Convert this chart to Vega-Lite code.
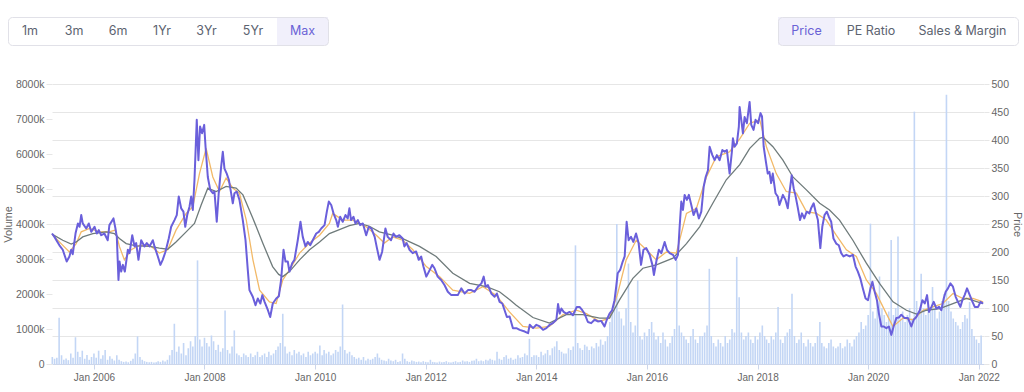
{
"$schema": "https://vega.github.io/schema/vega-lite/v6.json",
"padding": {"left": 2, "top": 16, "right": 0, "bottom": 4},
"background": "white",
"spacing": 67,
"bounds": "flush",
"config": {"view": {"stroke": null}, "font": "Liberation Sans", "axis": {"labelFont": "Liberation Sans", "titleFont": "Liberation Sans"}},
"datasets": {
"price": [
{"d":"2005-03-30","p":233},{"d":"2005-04-15","p":227},{"d":"2005-05-18","p":212},{"d":"2005-06-09","p":204},{"d":"2005-07-05","p":183},{"d":"2005-07-23","p":192},{"d":"2005-08-04","p":204},{"d":"2005-08-14","p":196},{"d":"2005-09-02","p":234},{"d":"2005-09-17","p":251},{"d":"2005-09-28","p":245},{"d":"2005-10-09","p":266},{"d":"2005-10-19","p":251},{"d":"2005-11-11","p":242},{"d":"2005-11-28","p":251},{"d":"2005-12-14","p":236},
{"d":"2006-01-05","p":245},{"d":"2006-01-20","p":233},{"d":"2006-02-02","p":239},{"d":"2006-02-18","p":230},{"d":"2006-03-11","p":233},{"d":"2006-04-02","p":221},{"d":"2006-04-13","p":248},{"d":"2006-05-10","p":260},{"d":"2006-05-23","p":242},{"d":"2006-06-01","p":227},{"d":"2006-06-12","p":150},{"d":"2006-06-19","p":183},{"d":"2006-06-30","p":165},{"d":"2006-07-11","p":177},{"d":"2006-07-24","p":165},{"d":"2006-08-13","p":204},{"d":"2006-08-24","p":198},{"d":"2006-09-11","p":230},{"d":"2006-09-26","p":210},{"d":"2006-10-07","p":216},{"d":"2006-10-22","p":186},{"d":"2006-11-09","p":221},{"d":"2006-12-01","p":210},{"d":"2006-12-16","p":216},
{"d":"2007-01-03","p":210},{"d":"2007-01-25","p":221},{"d":"2007-02-05","p":210},{"d":"2007-02-27","p":192},{"d":"2007-03-16","p":177},{"d":"2007-03-31","p":186},{"d":"2007-04-18","p":200},{"d":"2007-05-10","p":224},{"d":"2007-05-26","p":245},{"d":"2007-06-17","p":257},{"d":"2007-07-02","p":266},{"d":"2007-07-15","p":299},{"d":"2007-07-31","p":278},{"d":"2007-08-15","p":272},{"d":"2007-08-27","p":245},{"d":"2007-09-09","p":266},{"d":"2007-09-24","p":281},{"d":"2007-10-05","p":299},{"d":"2007-10-16","p":275},{"d":"2007-10-27","p":329},{"d":"2007-11-11","p":436},{"d":"2007-11-22","p":364},{"d":"2007-12-03","p":424},{"d":"2007-12-16","p":412},{"d":"2007-12-30","p":427},
{"d":"2008-01-08","p":388},{"d":"2008-01-23","p":334},{"d":"2008-02-08","p":311},{"d":"2008-02-25","p":305},{"d":"2008-03-07","p":308},{"d":"2008-03-22","p":254},{"d":"2008-04-04","p":305},{"d":"2008-04-20","p":352},{"d":"2008-05-01","p":379},{"d":"2008-05-12","p":349},{"d":"2008-05-27","p":340},{"d":"2008-06-10","p":329},{"d":"2008-06-25","p":305},{"d":"2008-07-06","p":287},{"d":"2008-07-17","p":305},{"d":"2008-08-01","p":308},{"d":"2008-08-19","p":293},{"d":"2008-09-10","p":257},{"d":"2008-09-28","p":221},{"d":"2008-10-13","p":168},{"d":"2008-10-24","p":132},{"d":"2008-11-15","p":120},{"d":"2008-12-03","p":105},{"d":"2008-12-18","p":117},
{"d":"2009-01-04","p":108},{"d":"2009-01-17","p":123},{"d":"2009-02-01","p":111},{"d":"2009-02-23","p":96},{"d":"2009-03-10","p":84},{"d":"2009-03-27","p":108},{"d":"2009-04-19","p":117},{"d":"2009-05-06","p":121},{"d":"2009-05-21","p":150},{"d":"2009-06-06","p":204},{"d":"2009-06-19","p":183},{"d":"2009-07-04","p":183},{"d":"2009-07-15","p":165},{"d":"2009-08-02","p":180},{"d":"2009-08-17","p":186},{"d":"2009-09-08","p":221},{"d":"2009-09-26","p":254},{"d":"2009-10-11","p":227},{"d":"2009-10-29","p":210},{"d":"2009-11-13","p":218},{"d":"2009-11-29","p":212},{"d":"2009-12-16","p":221},
{"d":"2010-01-08","p":233},{"d":"2010-01-25","p":236},{"d":"2010-02-10","p":242},{"d":"2010-03-04","p":248},{"d":"2010-03-19","p":272},{"d":"2010-04-01","p":290},{"d":"2010-04-17","p":284},{"d":"2010-05-02","p":269},{"d":"2010-05-20","p":257},{"d":"2010-05-31","p":245},{"d":"2010-06-15","p":263},{"d":"2010-07-02","p":254},{"d":"2010-07-20","p":266},{"d":"2010-08-04","p":260},{"d":"2010-08-15","p":278},{"d":"2010-08-26","p":257},{"d":"2010-09-11","p":263},{"d":"2010-09-24","p":251},{"d":"2010-10-10","p":257},{"d":"2010-10-25","p":248},{"d":"2010-11-12","p":251},{"d":"2010-12-04","p":230},{"d":"2010-12-21","p":245},
{"d":"2011-01-07","p":242},{"d":"2011-01-29","p":227},{"d":"2011-02-13","p":207},{"d":"2011-03-02","p":186},{"d":"2011-03-19","p":200},{"d":"2011-04-10","p":242},{"d":"2011-04-25","p":227},{"d":"2011-05-17","p":221},{"d":"2011-06-02","p":233},{"d":"2011-06-19","p":227},{"d":"2011-07-11","p":230},{"d":"2011-08-02","p":224},{"d":"2011-08-13","p":210},{"d":"2011-08-28","p":216},{"d":"2011-09-16","p":204},{"d":"2011-10-07","p":198},{"d":"2011-10-30","p":201},{"d":"2011-11-16","p":186},{"d":"2011-12-02","p":192},{"d":"2011-12-17","p":174},
{"d":"2012-01-05","p":156},{"d":"2012-01-22","p":165},{"d":"2012-02-13","p":177},{"d":"2012-02-28","p":171},{"d":"2012-03-20","p":156},{"d":"2012-04-12","p":150},{"d":"2012-05-04","p":141},{"d":"2012-05-26","p":129},{"d":"2012-06-18","p":123},{"d":"2012-07-10","p":123},{"d":"2012-07-31","p":123},{"d":"2012-08-23","p":135},{"d":"2012-09-14","p":126},{"d":"2012-10-06","p":132},{"d":"2012-10-28","p":132},{"d":"2012-11-19","p":129},{"d":"2012-12-11","p":138},
{"d":"2013-01-03","p":144},{"d":"2013-01-18","p":156},{"d":"2013-01-31","p":138},{"d":"2013-02-15","p":141},{"d":"2013-03-09","p":126},{"d":"2013-03-31","p":120},{"d":"2013-04-15","p":126},{"d":"2013-05-03","p":111},{"d":"2013-05-21","p":108},{"d":"2013-06-05","p":96},{"d":"2013-06-20","p":84},{"d":"2013-07-08","p":85},{"d":"2013-07-30","p":64},{"d":"2013-08-22","p":64},{"d":"2013-09-13","p":61},{"d":"2013-10-16","p":58},{"d":"2013-11-07","p":55},{"d":"2013-11-18","p":70},{"d":"2013-12-10","p":64},
{"d":"2014-01-01","p":70},{"d":"2014-01-23","p":67},{"d":"2014-02-14","p":61},{"d":"2014-03-08","p":64},{"d":"2014-03-30","p":70},{"d":"2014-04-20","p":73},{"d":"2014-05-13","p":79},{"d":"2014-05-24","p":107},{"d":"2014-06-04","p":90},{"d":"2014-06-15","p":99},{"d":"2014-06-30","p":93},{"d":"2014-07-18","p":90},{"d":"2014-08-08","p":93},{"d":"2014-08-30","p":87},{"d":"2014-09-25","p":102},{"d":"2014-10-13","p":102},{"d":"2014-10-31","p":96},{"d":"2014-11-15","p":90},{"d":"2014-12-07","p":75},{"d":"2014-12-29","p":73},
{"d":"2015-01-20","p":79},{"d":"2015-02-11","p":76},{"d":"2015-03-05","p":77},{"d":"2015-03-27","p":67},{"d":"2015-04-11","p":79},{"d":"2015-04-29","p":90},{"d":"2015-05-16","p":96},{"d":"2015-06-01","p":114},{"d":"2015-06-12","p":138},{"d":"2015-06-22","p":162},{"d":"2015-07-08","p":168},{"d":"2015-07-25","p":183},{"d":"2015-08-07","p":192},{"d":"2015-08-20","p":254},{"d":"2015-09-02","p":221},{"d":"2015-09-18","p":227},{"d":"2015-10-03","p":218},{"d":"2015-10-21","p":233},{"d":"2015-11-07","p":216},{"d":"2015-11-23","p":177},{"d":"2015-12-09","p":204},{"d":"2015-12-27","p":207},
{"d":"2016-01-19","p":195},{"d":"2016-02-06","p":177},{"d":"2016-02-16","p":159},{"d":"2016-03-03","p":183},{"d":"2016-03-20","p":204},{"d":"2016-04-05","p":198},{"d":"2016-04-27","p":218},{"d":"2016-05-12","p":204},{"d":"2016-05-30","p":198},{"d":"2016-06-21","p":195},{"d":"2016-07-09","p":186},{"d":"2016-07-24","p":195},{"d":"2016-08-04","p":245},{"d":"2016-08-15","p":290},{"d":"2016-08-26","p":275},{"d":"2016-09-06","p":302},{"d":"2016-09-21","p":293},{"d":"2016-10-04","p":302},{"d":"2016-10-20","p":284},{"d":"2016-11-04","p":266},{"d":"2016-11-22","p":278},{"d":"2016-12-09","p":260},{"d":"2016-12-25","p":272},
{"d":"2017-01-10","p":317},{"d":"2017-01-23","p":334},{"d":"2017-02-07","p":346},{"d":"2017-02-18","p":388},{"d":"2017-03-08","p":373},{"d":"2017-03-23","p":364},{"d":"2017-04-07","p":373},{"d":"2017-04-25","p":364},{"d":"2017-05-13","p":382},{"d":"2017-05-28","p":379},{"d":"2017-06-12","p":382},{"d":"2017-06-30","p":340},{"d":"2017-07-15","p":379},{"d":"2017-07-22","p":403},{"d":"2017-08-02","p":388},{"d":"2017-08-17","p":394},{"d":"2017-08-30","p":424},{"d":"2017-09-04","p":459},{"d":"2017-09-15","p":436},{"d":"2017-09-26","p":412},{"d":"2017-10-07","p":441},{"d":"2017-10-22","p":430},{"d":"2017-11-09","p":468},{"d":"2017-11-20","p":427},{"d":"2017-12-05","p":418},{"d":"2017-12-18","p":436},
{"d":"2018-01-04","p":430},{"d":"2018-01-20","p":448},{"d":"2018-01-30","p":442},{"d":"2018-02-10","p":388},{"d":"2018-02-23","p":364},{"d":"2018-03-09","p":340},{"d":"2018-03-20","p":343},{"d":"2018-03-31","p":323},{"d":"2018-04-11","p":340},{"d":"2018-04-29","p":305},{"d":"2018-05-14","p":299},{"d":"2018-05-25","p":284},{"d":"2018-06-17","p":302},{"d":"2018-07-04","p":293},{"d":"2018-07-19","p":278},{"d":"2018-07-30","p":305},{"d":"2018-08-14","p":337},{"d":"2018-08-27","p":314},{"d":"2018-09-07","p":302},{"d":"2018-09-22","p":281},{"d":"2018-10-08","p":257},{"d":"2018-10-21","p":269},{"d":"2018-11-05","p":260},{"d":"2018-11-21","p":272},{"d":"2018-12-09","p":269},{"d":"2018-12-20","p":278},
{"d":"2019-01-06","p":287},{"d":"2019-01-19","p":272},{"d":"2019-02-03","p":257},{"d":"2019-02-19","p":207},{"d":"2019-03-04","p":245},{"d":"2019-03-19","p":266},{"d":"2019-04-03","p":272},{"d":"2019-04-16","p":263},{"d":"2019-05-02","p":254},{"d":"2019-05-17","p":224},{"d":"2019-06-04","p":215},{"d":"2019-06-21","p":212},{"d":"2019-07-07","p":198},{"d":"2019-07-22","p":192},{"d":"2019-08-10","p":195},{"d":"2019-09-01","p":192},{"d":"2019-09-22","p":195},{"d":"2019-10-10","p":174},{"d":"2019-10-25","p":165},{"d":"2019-11-10","p":153},{"d":"2019-11-27","p":135},{"d":"2019-12-15","p":117},{"d":"2019-12-31","p":114},
{"d":"2020-01-16","p":135},{"d":"2020-01-29","p":147},{"d":"2020-02-13","p":129},{"d":"2020-02-28","p":114},{"d":"2020-03-12","p":90},{"d":"2020-03-28","p":67},{"d":"2020-04-13","p":67},{"d":"2020-04-30","p":64},{"d":"2020-05-17","p":67},{"d":"2020-06-02","p":52},{"d":"2020-06-17","p":67},{"d":"2020-07-05","p":82},{"d":"2020-07-22","p":83},{"d":"2020-08-07","p":88},{"d":"2020-08-29","p":82},{"d":"2020-09-20","p":82},{"d":"2020-10-12","p":67},{"d":"2020-10-28","p":79},{"d":"2020-11-14","p":84},{"d":"2020-12-07","p":96},{"d":"2020-12-24","p":114},
{"d":"2021-01-09","p":108},{"d":"2021-01-24","p":123},{"d":"2021-02-06","p":93},{"d":"2021-02-22","p":102},{"d":"2021-03-09","p":111},{"d":"2021-03-27","p":99},{"d":"2021-04-13","p":102},{"d":"2021-04-28","p":96},{"d":"2021-05-14","p":117},{"d":"2021-05-27","p":129},{"d":"2021-06-11","p":135},{"d":"2021-06-27","p":144},{"d":"2021-07-14","p":138},{"d":"2021-08-01","p":120},{"d":"2021-08-16","p":111},{"d":"2021-09-01","p":102},{"d":"2021-09-14","p":114},{"d":"2021-09-29","p":123},{"d":"2021-10-15","p":135},{"d":"2021-11-02","p":123},{"d":"2021-11-20","p":111},{"d":"2021-12-05","p":102},{"d":"2021-12-27","p":102},{"d":"2022-01-12","p":111},{"d":"2022-01-29","p":108}
],
"ma50": [
{"d":"2005-03-30","p":232},{"d":"2005-05-29","p":215},{"d":"2005-07-23","p":200},{"d":"2005-09-06","p":215},{"d":"2005-10-09","p":236},{"d":"2005-12-03","p":242},{"d":"2006-02-07","p":236},{"d":"2006-04-12","p":236},{"d":"2006-05-22","p":239},{"d":"2006-06-18","p":210},{"d":"2006-07-21","p":186},{"d":"2006-09-04","p":204},{"d":"2006-10-29","p":212},{"d":"2007-01-04","p":212},{"d":"2007-03-09","p":198},{"d":"2007-05-03","p":204},{"d":"2007-06-27","p":239},{"d":"2007-09-02","p":269},{"d":"2007-10-16","p":281},{"d":"2007-11-29","p":340},{"d":"2008-01-12","p":385},{"d":"2008-02-25","p":334},{"d":"2008-04-09","p":308},{"d":"2008-05-23","p":332},{"d":"2008-07-06","p":314},{"d":"2008-08-19","p":305},{"d":"2008-10-03","p":257},{"d":"2008-11-16","p":186},{"d":"2008-12-30","p":132},{"d":"2009-03-05","p":111},{"d":"2009-04-18","p":108},{"d":"2009-06-01","p":150},{"d":"2009-07-15","p":168},{"d":"2009-09-20","p":198},{"d":"2009-11-25","p":216},{"d":"2010-01-30","p":230},{"d":"2010-04-05","p":251},{"d":"2010-04-27","p":269},{"d":"2010-07-02","p":257},{"d":"2010-09-07","p":257},{"d":"2010-12-04","p":245},{"d":"2011-02-09","p":230},{"d":"2011-04-03","p":216},{"d":"2011-05-27","p":227},{"d":"2011-08-02","p":221},{"d":"2011-10-08","p":204},{"d":"2012-01-05","p":174},{"d":"2012-04-02","p":156},{"d":"2012-06-28","p":132},{"d":"2012-10-17","p":126},{"d":"2013-01-13","p":138},{"d":"2013-04-10","p":123},{"d":"2013-07-07","p":93},{"d":"2013-10-04","p":67},{"d":"2014-01-01","p":64},{"d":"2014-03-28","p":67},{"d":"2014-06-24","p":88},{"d":"2014-09-22","p":96},{"d":"2014-11-27","p":90},{"d":"2015-02-23","p":76},{"d":"2015-04-29","p":82},{"d":"2015-06-22","p":126},{"d":"2015-08-17","p":186},{"d":"2015-10-22","p":221},{"d":"2015-12-28","p":204},{"d":"2016-03-03","p":186},{"d":"2016-05-08","p":200},{"d":"2016-07-13","p":198},{"d":"2016-09-18","p":269},{"d":"2016-11-23","p":278},{"d":"2017-01-28","p":334},{"d":"2017-04-03","p":370},{"d":"2017-06-30","p":379},{"d":"2017-09-05","p":402},{"d":"2017-11-10","p":430},{"d":"2018-01-15","p":436},{"d":"2018-02-28","p":388},{"d":"2018-05-04","p":340},{"d":"2018-07-09","p":308},{"d":"2018-09-14","p":305},{"d":"2018-11-19","p":272},{"d":"2019-01-25","p":269},{"d":"2019-03-30","p":257},{"d":"2019-06-04","p":230},{"d":"2019-08-10","p":204},{"d":"2019-10-15","p":192},{"d":"2019-12-20","p":150},{"d":"2020-02-24","p":126},{"d":"2020-04-30","p":90},{"d":"2020-06-13","p":67},{"d":"2020-08-18","p":82},{"d":"2020-10-23","p":79},{"d":"2020-12-29","p":96},{"d":"2021-03-03","p":102},{"d":"2021-05-08","p":108},{"d":"2021-07-14","p":126},{"d":"2021-09-18","p":117},{"d":"2021-11-23","p":117},{"d":"2022-01-29","p":111}
],
"ma200": [
{"d":"2005-03-30","p":232},{"d":"2005-06-09","p":221},{"d":"2005-08-04","p":214},{"d":"2005-09-06","p":218},{"d":"2005-10-19","p":227},{"d":"2005-12-25","p":233},{"d":"2006-03-22","p":236},{"d":"2006-05-16","p":233},{"d":"2006-06-18","p":224},{"d":"2006-08-02","p":215},{"d":"2006-10-07","p":211},{"d":"2007-01-04","p":210},{"d":"2007-03-09","p":207},{"d":"2007-05-03","p":205},{"d":"2007-06-27","p":218},{"d":"2007-09-02","p":236},{"d":"2007-10-27","p":251},{"d":"2007-12-10","p":284},{"d":"2008-01-23","p":314},{"d":"2008-03-18","p":308},{"d":"2008-05-23","p":317},{"d":"2008-07-28","p":314},{"d":"2008-09-11","p":302},{"d":"2008-11-16","p":260},{"d":"2009-01-21","p":215},{"d":"2009-03-26","p":174},{"d":"2009-05-05","p":160},{"d":"2009-06-01","p":156},{"d":"2009-07-15","p":165},{"d":"2009-09-20","p":186},{"d":"2009-11-25","p":204},{"d":"2010-01-30","p":218},{"d":"2010-04-05","p":233},{"d":"2010-06-10","p":240},{"d":"2010-08-15","p":247},{"d":"2010-10-20","p":251},{"d":"2010-12-25","p":246},{"d":"2011-03-01","p":236},{"d":"2011-05-27","p":230},{"d":"2011-08-02","p":224},{"d":"2011-11-21","p":210},{"d":"2012-03-10","p":192},{"d":"2012-06-28","p":162},{"d":"2012-10-17","p":144},{"d":"2013-02-05","p":138},{"d":"2013-05-02","p":129},{"d":"2013-07-07","p":115},{"d":"2013-08-21","p":105},{"d":"2013-12-09","p":83},{"d":"2014-03-28","p":73},{"d":"2014-07-17","p":88},{"d":"2014-11-04","p":88},{"d":"2015-02-23","p":82},{"d":"2015-04-29","p":82},{"d":"2015-07-03","p":114},{"d":"2015-09-30","p":153},{"d":"2015-12-05","p":171},{"d":"2016-03-03","p":177},{"d":"2016-06-21","p":189},{"d":"2016-09-18","p":215},{"d":"2016-12-14","p":245},{"d":"2017-03-11","p":287},{"d":"2017-06-08","p":329},{"d":"2017-09-05","p":356},{"d":"2017-11-10","p":385},{"d":"2018-01-15","p":403},{"d":"2018-02-06","p":405},{"d":"2018-04-12","p":388},{"d":"2018-06-17","p":364},{"d":"2018-08-22","p":334},{"d":"2018-11-19","p":311},{"d":"2019-02-15","p":287},{"d":"2019-04-21","p":275},{"d":"2019-06-26","p":257},{"d":"2019-09-22","p":221},{"d":"2019-12-20","p":180},{"d":"2020-03-16","p":144},{"d":"2020-06-13","p":111},{"d":"2020-09-10","p":96},{"d":"2020-11-15","p":89},{"d":"2021-01-20","p":96},{"d":"2021-04-17","p":99},{"d":"2021-07-14","p":108},{"d":"2021-10-11","p":117},{"d":"2022-01-29","p":108}
],
"volume": [
{"d":"2005-04-01","v":200},{"d":"2005-04-16","v":150},{"d":"2005-05-01","v":180},{"d":"2005-05-16","v":1320},{"d":"2005-06-01","v":250},{"d":"2005-06-16","v":120},{"d":"2005-07-01","v":160},{"d":"2005-07-16","v":110},{"d":"2005-08-01","v":300},{"d":"2005-08-16","v":180},{"d":"2005-09-01","v":765},{"d":"2005-09-16","v":350},{"d":"2005-10-01","v":200},{"d":"2005-10-16","v":380},{"d":"2005-11-01","v":150},{"d":"2005-11-16","v":260},{"d":"2005-12-01","v":120},{"d":"2005-12-16","v":200},
{"d":"2006-01-01","v":300},{"d":"2006-01-16","v":180},{"d":"2006-02-01","v":380},{"d":"2006-02-16","v":150},{"d":"2006-03-01","v":250},{"d":"2006-03-16","v":400},{"d":"2006-04-01","v":120},{"d":"2006-04-16","v":220},{"d":"2006-05-01","v":150},{"d":"2006-05-16","v":100},{"d":"2006-06-01","v":250},{"d":"2006-06-16","v":120},{"d":"2006-07-01","v":80},{"d":"2006-07-16","v":60},{"d":"2006-08-01","v":70},{"d":"2006-08-16","v":50},{"d":"2006-09-01","v":90},{"d":"2006-09-16","v":150},{"d":"2006-10-01","v":300},{"d":"2006-10-16","v":790},{"d":"2006-11-01","v":200},{"d":"2006-11-16","v":120},{"d":"2006-12-01","v":80},{"d":"2006-12-16","v":60},
{"d":"2007-01-01","v":50},{"d":"2007-01-16","v":60},{"d":"2007-02-01","v":40},{"d":"2007-02-16","v":50},{"d":"2007-03-01","v":80},{"d":"2007-03-16","v":60},{"d":"2007-04-01","v":100},{"d":"2007-04-16","v":70},{"d":"2007-05-01","v":120},{"d":"2007-05-16","v":250},{"d":"2007-06-01","v":400},{"d":"2007-06-16","v":1150},{"d":"2007-07-01","v":350},{"d":"2007-07-16","v":500},{"d":"2007-08-01","v":300},{"d":"2007-08-16","v":600},{"d":"2007-09-01","v":250},{"d":"2007-09-16","v":450},{"d":"2007-10-01","v":650},{"d":"2007-10-16","v":500},{"d":"2007-11-01","v":800},{"d":"2007-11-16","v":2960},{"d":"2007-12-01","v":700},{"d":"2007-12-16","v":500},
{"d":"2008-01-01","v":750},{"d":"2008-01-16","v":600},{"d":"2008-02-01","v":500},{"d":"2008-02-16","v":815},{"d":"2008-03-01","v":650},{"d":"2008-03-16","v":400},{"d":"2008-04-01","v":550},{"d":"2008-04-16","v":350},{"d":"2008-05-01","v":450},{"d":"2008-05-16","v":1530},{"d":"2008-06-01","v":400},{"d":"2008-06-16","v":300},{"d":"2008-07-01","v":500},{"d":"2008-07-16","v":960},{"d":"2008-08-01","v":300},{"d":"2008-08-16","v":250},{"d":"2008-09-01","v":200},{"d":"2008-09-16","v":300},{"d":"2008-10-01","v":250},{"d":"2008-10-16","v":200},{"d":"2008-11-01","v":300},{"d":"2008-11-16","v":200},{"d":"2008-12-01","v":250},{"d":"2008-12-16","v":350},
{"d":"2009-01-01","v":200},{"d":"2009-01-16","v":250},{"d":"2009-02-01","v":300},{"d":"2009-02-16","v":200},{"d":"2009-03-01","v":350},{"d":"2009-03-16","v":250},{"d":"2009-04-01","v":300},{"d":"2009-04-16","v":400},{"d":"2009-05-01","v":500},{"d":"2009-05-16","v":600},{"d":"2009-06-01","v":1435},{"d":"2009-06-16","v":500},{"d":"2009-07-01","v":300},{"d":"2009-07-16","v":350},{"d":"2009-08-01","v":250},{"d":"2009-08-16","v":400},{"d":"2009-09-01","v":300},{"d":"2009-09-16","v":350},{"d":"2009-10-01","v":250},{"d":"2009-10-16","v":300},{"d":"2009-11-01","v":200},{"d":"2009-11-16","v":350},{"d":"2009-12-01","v":250},{"d":"2009-12-16","v":300},
{"d":"2010-01-01","v":350},{"d":"2010-01-16","v":300},{"d":"2010-02-01","v":530},{"d":"2010-02-16","v":250},{"d":"2010-03-01","v":400},{"d":"2010-03-16","v":300},{"d":"2010-04-01","v":350},{"d":"2010-04-16","v":250},{"d":"2010-05-01","v":300},{"d":"2010-05-16","v":400},{"d":"2010-06-01","v":350},{"d":"2010-06-16","v":500},{"d":"2010-07-01","v":1700},{"d":"2010-07-16","v":400},{"d":"2010-08-01","v":300},{"d":"2010-08-16","v":350},{"d":"2010-09-01","v":250},{"d":"2010-09-16","v":200},{"d":"2010-10-01","v":150},{"d":"2010-10-16","v":180},{"d":"2010-11-01","v":120},{"d":"2010-11-16","v":200},{"d":"2010-12-01","v":100},{"d":"2010-12-16","v":150},
{"d":"2011-01-01","v":120},{"d":"2011-01-16","v":150},{"d":"2011-02-01","v":200},{"d":"2011-02-16","v":300},{"d":"2011-03-01","v":180},{"d":"2011-03-16","v":120},{"d":"2011-04-01","v":100},{"d":"2011-04-16","v":80},{"d":"2011-05-01","v":150},{"d":"2011-05-16","v":100},{"d":"2011-06-01","v":80},{"d":"2011-06-16","v":120},{"d":"2011-07-01","v":60},{"d":"2011-07-16","v":80},{"d":"2011-08-01","v":300},{"d":"2011-08-16","v":150},{"d":"2011-09-01","v":80},{"d":"2011-09-16","v":60},{"d":"2011-10-01","v":100},{"d":"2011-10-16","v":80},{"d":"2011-11-01","v":60},{"d":"2011-11-16","v":70},{"d":"2011-12-01","v":50},{"d":"2011-12-16","v":80},
{"d":"2012-01-01","v":60},{"d":"2012-01-16","v":50},{"d":"2012-02-01","v":120},{"d":"2012-02-16","v":60},{"d":"2012-03-01","v":50},{"d":"2012-03-16","v":40},{"d":"2012-04-01","v":70},{"d":"2012-04-16","v":50},{"d":"2012-05-01","v":60},{"d":"2012-05-16","v":80},{"d":"2012-06-01","v":50},{"d":"2012-06-16","v":40},{"d":"2012-07-01","v":60},{"d":"2012-07-16","v":80},{"d":"2012-08-01","v":50},{"d":"2012-08-16","v":60},{"d":"2012-09-01","v":100},{"d":"2012-09-16","v":70},{"d":"2012-10-01","v":80},{"d":"2012-10-16","v":60},{"d":"2012-11-01","v":90},{"d":"2012-11-16","v":100},{"d":"2012-12-01","v":150},{"d":"2012-12-16","v":80},
{"d":"2013-01-01","v":100},{"d":"2013-01-16","v":80},{"d":"2013-02-01","v":120},{"d":"2013-02-16","v":100},{"d":"2013-03-01","v":150},{"d":"2013-03-16","v":120},{"d":"2013-04-01","v":100},{"d":"2013-04-16","v":350},{"d":"2013-05-01","v":150},{"d":"2013-05-16","v":120},{"d":"2013-06-01","v":200},{"d":"2013-06-16","v":250},{"d":"2013-07-01","v":150},{"d":"2013-07-16","v":180},{"d":"2013-08-01","v":120},{"d":"2013-08-16","v":150},{"d":"2013-09-01","v":250},{"d":"2013-09-16","v":180},{"d":"2013-10-01","v":200},{"d":"2013-10-16","v":300},{"d":"2013-11-01","v":250},{"d":"2013-11-16","v":720},{"d":"2013-12-01","v":200},{"d":"2013-12-16","v":250},
{"d":"2014-01-01","v":250},{"d":"2014-01-16","v":200},{"d":"2014-02-01","v":350},{"d":"2014-02-16","v":250},{"d":"2014-03-01","v":300},{"d":"2014-03-16","v":400},{"d":"2014-04-01","v":250},{"d":"2014-04-16","v":450},{"d":"2014-05-01","v":500},{"d":"2014-05-16","v":650},{"d":"2014-06-01","v":400},{"d":"2014-06-16","v":350},{"d":"2014-07-01","v":300},{"d":"2014-07-16","v":300},{"d":"2014-08-01","v":450},{"d":"2014-08-16","v":400},{"d":"2014-09-01","v":500},{"d":"2014-09-16","v":3390},{"d":"2014-10-01","v":600},{"d":"2014-10-16","v":450},{"d":"2014-11-01","v":400},{"d":"2014-11-16","v":550},{"d":"2014-12-01","v":500},{"d":"2014-12-16","v":400},
{"d":"2015-01-01","v":500},{"d":"2015-01-16","v":450},{"d":"2015-02-01","v":600},{"d":"2015-02-16","v":500},{"d":"2015-03-01","v":700},{"d":"2015-03-16","v":550},{"d":"2015-04-01","v":650},{"d":"2015-04-16","v":800},{"d":"2015-05-01","v":1200},{"d":"2015-05-16","v":1500},{"d":"2015-06-01","v":1800},{"d":"2015-06-16","v":4000},{"d":"2015-07-01","v":1500},{"d":"2015-07-16","v":1300},{"d":"2015-08-01","v":1100},{"d":"2015-08-16","v":1600},{"d":"2015-09-01","v":2870},{"d":"2015-09-16","v":1200},{"d":"2015-10-01","v":900},{"d":"2015-10-16","v":1100},{"d":"2015-11-01","v":2390},{"d":"2015-11-16","v":800},{"d":"2015-12-01","v":700},{"d":"2015-12-16","v":900},
{"d":"2016-01-01","v":800},{"d":"2016-01-16","v":1000},{"d":"2016-02-01","v":1200},{"d":"2016-02-16","v":900},{"d":"2016-03-01","v":700},{"d":"2016-03-16","v":800},{"d":"2016-04-01","v":600},{"d":"2016-04-16","v":900},{"d":"2016-05-01","v":700},{"d":"2016-05-16","v":500},{"d":"2016-06-01","v":600},{"d":"2016-06-16","v":800},{"d":"2016-07-01","v":1000},{"d":"2016-07-16","v":2960},{"d":"2016-08-01","v":1100},{"d":"2016-08-16","v":900},{"d":"2016-09-01","v":800},{"d":"2016-09-16","v":700},{"d":"2016-10-01","v":600},{"d":"2016-10-16","v":800},{"d":"2016-11-01","v":1000},{"d":"2016-11-16","v":700},{"d":"2016-12-01","v":600},{"d":"2016-12-16","v":800},
{"d":"2017-01-01","v":800},{"d":"2017-01-16","v":900},{"d":"2017-02-01","v":1100},{"d":"2017-02-16","v":2720},{"d":"2017-03-01","v":800},{"d":"2017-03-16","v":600},{"d":"2017-04-01","v":500},{"d":"2017-04-16","v":700},{"d":"2017-05-01","v":600},{"d":"2017-05-16","v":500},{"d":"2017-06-01","v":800},{"d":"2017-06-16","v":600},{"d":"2017-07-01","v":700},{"d":"2017-07-16","v":1000},{"d":"2017-08-01","v":900},{"d":"2017-08-16","v":3060},{"d":"2017-09-01","v":1910},{"d":"2017-09-16","v":900},{"d":"2017-10-01","v":700},{"d":"2017-10-16","v":800},{"d":"2017-11-01","v":900},{"d":"2017-11-16","v":700},{"d":"2017-12-01","v":600},{"d":"2017-12-16","v":800},
{"d":"2018-01-01","v":700},{"d":"2018-01-16","v":900},{"d":"2018-02-01","v":1100},{"d":"2018-02-16","v":800},{"d":"2018-03-01","v":700},{"d":"2018-03-16","v":600},{"d":"2018-04-01","v":800},{"d":"2018-04-16","v":700},{"d":"2018-05-01","v":900},{"d":"2018-05-16","v":1630},{"d":"2018-06-01","v":700},{"d":"2018-06-16","v":600},{"d":"2018-07-01","v":800},{"d":"2018-07-16","v":900},{"d":"2018-08-01","v":1000},{"d":"2018-08-16","v":2010},{"d":"2018-09-01","v":800},{"d":"2018-09-16","v":600},{"d":"2018-10-01","v":700},{"d":"2018-10-16","v":900},{"d":"2018-11-01","v":600},{"d":"2018-11-16","v":500},{"d":"2018-12-01","v":700},{"d":"2018-12-16","v":600},
{"d":"2019-01-01","v":500},{"d":"2019-01-16","v":600},{"d":"2019-02-01","v":800},{"d":"2019-02-16","v":1200},{"d":"2019-03-01","v":600},{"d":"2019-03-16","v":500},{"d":"2019-04-01","v":450},{"d":"2019-04-16","v":600},{"d":"2019-05-01","v":700},{"d":"2019-05-16","v":500},{"d":"2019-06-01","v":450},{"d":"2019-06-16","v":500},{"d":"2019-07-01","v":600},{"d":"2019-07-16","v":450},{"d":"2019-08-01","v":500},{"d":"2019-08-16","v":700},{"d":"2019-09-01","v":600},{"d":"2019-09-16","v":500},{"d":"2019-10-01","v":700},{"d":"2019-10-16","v":800},{"d":"2019-11-01","v":900},{"d":"2019-11-16","v":1200},{"d":"2019-12-01","v":1000},{"d":"2019-12-16","v":1100},
{"d":"2020-01-01","v":1400},{"d":"2020-01-16","v":4010},{"d":"2020-02-01","v":1500},{"d":"2020-02-16","v":1300},{"d":"2020-03-01","v":1800},{"d":"2020-03-16","v":2500},{"d":"2020-04-01","v":1600},{"d":"2020-04-16","v":1400},{"d":"2020-05-01","v":1200},{"d":"2020-05-16","v":1500},{"d":"2020-06-01","v":3540},{"d":"2020-06-16","v":1400},{"d":"2020-07-01","v":1600},{"d":"2020-07-16","v":3640},{"d":"2020-08-01","v":1300},{"d":"2020-08-16","v":1500},{"d":"2020-09-01","v":1200},{"d":"2020-09-16","v":1400},{"d":"2020-10-01","v":1600},{"d":"2020-10-16","v":1300},{"d":"2020-11-01","v":7210},{"d":"2020-11-16","v":1800},{"d":"2020-12-01","v":1500},{"d":"2020-12-16","v":2580},
{"d":"2021-01-01","v":1600},{"d":"2021-01-16","v":1400},{"d":"2021-02-01","v":1800},{"d":"2021-02-16","v":1500},{"d":"2021-03-01","v":2200},{"d":"2021-03-16","v":1600},{"d":"2021-04-01","v":1300},{"d":"2021-04-16","v":1500},{"d":"2021-05-01","v":1800},{"d":"2021-05-16","v":2000},{"d":"2021-06-01","v":7690},{"d":"2021-06-16","v":1800},{"d":"2021-07-01","v":1500},{"d":"2021-07-16","v":1300},{"d":"2021-08-01","v":1200},{"d":"2021-08-16","v":1100},{"d":"2021-09-01","v":1000},{"d":"2021-09-16","v":1200},{"d":"2021-10-01","v":1400},{"d":"2021-10-16","v":1300},{"d":"2021-11-01","v":1770},{"d":"2021-11-16","v":1000},{"d":"2021-12-01","v":800},{"d":"2021-12-16","v":700},
{"d":"2022-01-01","v":600},{"d":"2022-01-16","v":815}
]
},
"vconcat": [
{"hconcat": [
  {"hconcat": [
    {"hconcat": [
      {"width": 44, "height": 28, "data": {"values": [{"label": "1m"}]}, "mark": {"type": "text", "font": "Inter", "fontSize": 12.5, "color": "#5c6370"}, "encoding": {"text": {"field": "label"}}},
      {"width": 44, "height": 28, "data": {"values": [{"label": "3m"}]}, "mark": {"type": "text", "font": "Inter", "fontSize": 12.5, "color": "#5c6370"}, "encoding": {"text": {"field": "label"}}},
      {"width": 44, "height": 28, "data": {"values": [{"label": "6m"}]}, "mark": {"type": "text", "font": "Inter", "fontSize": 12.5, "color": "#5c6370"}, "encoding": {"text": {"field": "label"}}},
      {"width": 44, "height": 28, "data": {"values": [{"label": "1Yr"}]}, "mark": {"type": "text", "font": "Inter", "fontSize": 12.5, "color": "#5c6370"}, "encoding": {"text": {"field": "label"}}},
      {"width": 45, "height": 28, "data": {"values": [{"label": "3Yr"}]}, "mark": {"type": "text", "font": "Inter", "fontSize": 12.5, "color": "#5c6370"}, "encoding": {"text": {"field": "label"}}},
      {"width": 48, "height": 28, "data": {"values": [{"label": "5Yr"}]}, "mark": {"type": "text", "font": "Inter", "fontSize": 12.5, "color": "#5c6370"}, "encoding": {"text": {"field": "label"}}},
      {"width": 51, "height": 28, "view": {"fill": "#f1f0fb"}, "data": {"values": [{"label": "Max"}]}, "mark": {"type": "text", "font": "Inter", "fontSize": 12.5, "color": "#6a62d6"}, "encoding": {"text": {"field": "label"}}}
    ], "spacing": 0, "bounds": "flush"},
    {"width": 320, "height": 28, "view": {"stroke": "#e1e1e8", "strokeWidth": 1, "cornerRadius": 4}, "data": {"values": [{"k": 1}]}, "mark": {"type": "text", "text": ""}}
  ], "spacing": 0, "bounds": "flush"},
  {"hconcat": [
    {"hconcat": [
      {"width": 57, "height": 28, "view": {"fill": "#f1f0fb"}, "data": {"values": [{"label": "Price"}]}, "mark": {"type": "text", "font": "Inter", "fontSize": 12.5, "color": "#6a62d6"}, "encoding": {"text": {"field": "label"}}},
      {"width": 72, "height": 28, "data": {"values": [{"label": "PE Ratio"}]}, "mark": {"type": "text", "font": "Inter", "fontSize": 12.5, "color": "#5c6370"}, "encoding": {"text": {"field": "label"}}},
      {"width": 111, "height": 28, "data": {"values": [{"label": "Sales & Margin"}]}, "mark": {"type": "text", "font": "Inter", "fontSize": 12.5, "color": "#5c6370"}, "encoding": {"text": {"field": "label"}}}
    ], "spacing": 0, "bounds": "flush"},
    {"width": 240, "height": 28, "view": {"stroke": "#e1e1e8", "strokeWidth": 1, "cornerRadius": 4}, "data": {"values": [{"k": 1}]}, "mark": {"type": "text", "text": ""}}
  ], "spacing": 0, "bounds": "flush"}
 ], "spacing": 448, "bounds": "full"},
{"hconcat": [
 {"width": 1, "height": 1, "data": {"values": [{"k": 1}]}, "mark": {"type": "text", "text": ""}},
 {"width": 932, "height": 280,
  "encoding": {"x": {"field": "d", "type": "temporal",
     "scale": {"domain": [{"year": 2005, "month": 3, "date": 30}, {"year": 2022, "month": 2, "date": 4}], "padding": 0},
     "axis": {"title": null, "format": "%b %Y", "tickCount": {"interval": "year", "step": 2}, "grid": false, "labelFlush": false, "labelOverlap": false,
              "domainColor": "#ccd6eb", "tickColor": "#ccd6eb", "tickSize": 5, "labelPadding": 3, "labelColor": "#666666", "labelFontSize": 10}}},
  "layer": [
   {"data": {"name": "volume"}, "mark": {"type": "bar", "width": 1.6, "color": "#c3d6f5"},
    "encoding": {"y": {"field": "v", "type": "quantitative", "scale": {"domain": [0, 8000]},
      "axis": {"orient": "left", "values": [0,1000,2000,3000,4000,5000,6000,7000,8000], "labelExpr": "datum.value == 0 ? '0' : datum.value + 'k'",
               "grid": false, "domain": false, "ticks": true, "tickColor": "#e6e6e6", "tickSize": 6, "labelPadding": 2,
               "labelColor": "#666666", "labelFontSize": 10.5, "title": "Volume", "titleColor": "#666666", "titleFontWeight": "normal", "titleFontSize": 11, "titlePadding": 2}}}},
   {"encoding": {"y": {"field": "p", "type": "quantitative", "scale": {"domain": [0, 500]},
      "axis": {"orient": "right", "values": [0,50,100,150,200,250,300,350,400,450,500], "grid": true, "gridColor": "#e6e6e6", "domain": false,
               "tickColor": "#e6e6e6", "tickSize": 5, "labelPadding": 2, "labelColor": "#666666", "labelFontSize": 10.5,
               "title": "Price", "titleColor": "#666666", "titleFontWeight": "normal", "titleFontSize": 11, "titlePadding": 3}}},
    "layer": [
     {"data": {"name": "ma50"}, "mark": {"type": "line", "color": "#f2b968", "strokeWidth": 1.3}},
     {"data": {"name": "ma200"}, "mark": {"type": "line", "color": "#6f7b7b", "strokeWidth": 1.3}},
     {"data": {"name": "price"}, "mark": {"type": "line", "color": "#6a5fdb", "strokeWidth": 2, "strokeJoin": "round"}}
    ]}
  ],
  "resolve": {"scale": {"y": "independent"}}}
 ], "spacing": 43, "bounds": "flush"}
]
}
